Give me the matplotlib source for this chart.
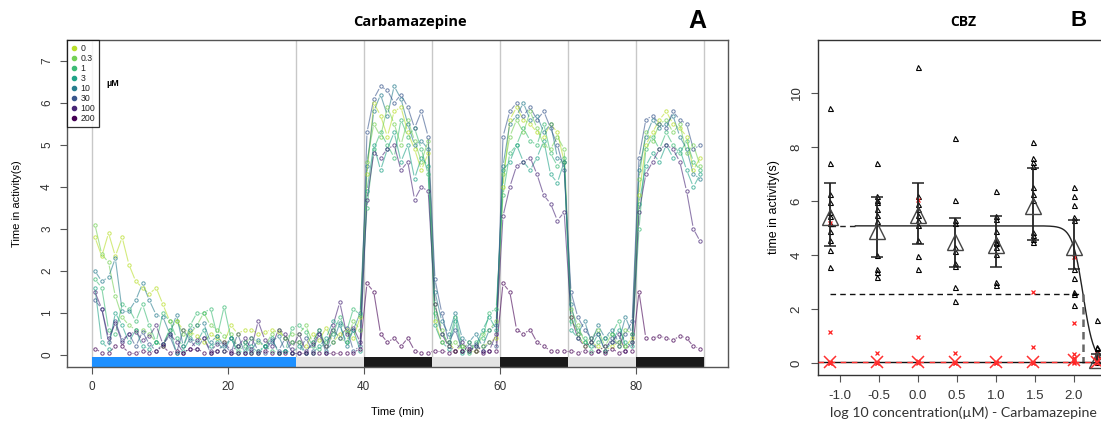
import numpy as np
import matplotlib
matplotlib.use("Agg")
import matplotlib.pyplot as plt
from matplotlib.collections import LineCollection
from matplotlib.lines import Line2D

# ---- panel A: activity time course per concentration ----
concentrations = ["0", "0.3", "1", "3", "10", "30", "100", "200"]
series_colors = ["#B8DE29", "#73D055", "#3CBB75", "#20A387",
                 "#287D8E", "#39568C", "#482677", "#440154"]
minutes = np.arange(0.5, 90, 1.0)

act_0 = [2.8, 2.35, 2.9, 2.35, 2.8, 2.15, 1.75, 1.6, 1.45, 1.6, 1.2, 0.8, 0.8, 0.6, 0.55,
         0.45, 0.3, 0.5, 0.4, 0.3, 0.7, 0.5, 0.6, 0.6, 0.5, 0.55, 0.6, 0.55, 0.4, 0.3,
         0.3, 0.2, 0.5, 0.35, 0.65, 0.3, 0.5, 0.6, 0.4, 0.9,
         4.3, 6.0, 5.7, 5.2, 5.8, 5.9, 5.3, 4.9, 4.4, 4.8,
         0.8, 0.3, 0.3, 0.1, 0.2, 0.1, 0.1, 0.2, 0.3, 0.4,
         4.0, 5.6, 5.9, 5.6, 5.5, 5.3, 5.2, 5.5, 5.3, 4.6,
         0.9, 0.5, 0.2, 0.3, 0.2, 0.1, 0.2, 0.3, 0.2, 0.4,
         3.8, 5.0, 5.3, 5.6, 5.8, 5.5, 5.4, 5.2, 4.4, 4.7]
act_03 = [3.1, 2.4, 2.2, 1.4, 0.9, 0.7, 0.6, 0.6, 0.5, 0.3, 0.2, 0.6, 0.8, 0.5, 0.5,
          0.7, 1.0, 0.7, 0.6, 0.45, 0.5, 0.2, 0.3, 0.4, 0.3, 0.2, 0.5, 0.6, 0.4, 0.5,
          0.5, 0.7, 0.3, 0.6, 0.2, 0.6, 0.4, 0.3, 0.8, 0.6,
          4.6, 5.5, 5.2, 5.9, 5.5, 5.0, 5.6, 5.1, 4.6, 5.1,
          1.2, 0.6, 0.2, 0.3, 0.1, 0.3, 0.1, 0.5, 0.6, 0.8,
          4.3, 5.2, 5.6, 5.3, 5.8, 5.4, 5.0, 4.9, 5.2, 4.9,
          1.1, 0.7, 0.3, 0.4, 0.6, 0.2, 0.5, 0.2, 0.6, 0.5,
          4.2, 5.3, 5.1, 5.5, 5.6, 5.3, 5.5, 4.8, 5.0, 4.5]
act_1 = [1.8, 1.6, 0.6, 0.5, 1.2, 1.1, 0.8, 1.2, 0.7, 0.3, 1.0, 0.8, 0.4, 0.2, 0.7,
         1.0, 1.0, 1.1, 0.45, 1.15, 0.4, 0.1, 0.2, 0.05, 0.1, 0.2, 0.1, 0.05, 0.1, 0.65,
         0.7, 0.55, 0.2, 0.15, 0.3, 0.5, 0.9, 0.55, 1.1, 0.95,
         3.5, 4.9, 5.3, 5.0, 4.7, 5.6, 5.2, 5.4, 4.9, 4.3,
         1.0, 0.5, 0.3, 0.9, 0.2, 0.05, 0.3, 0.4, 1.0, 1.1,
         3.8, 4.8, 5.0, 5.4, 5.1, 5.0, 5.5, 4.8, 4.5, 4.7,
         0.8, 0.6, 0.4, 0.1, 0.3, 0.4, 0.5, 0.8, 0.2, 0.3,
         3.0, 4.9, 5.2, 4.9, 5.3, 5.0, 4.8, 5.1, 4.6, 4.4]
act_3 = [1.6, 0.3, 0.15, 1.0, 0.7, 0.3, 0.6, 0.2, 0.15, 0.3, 0.25, 0.6, 0.05, 0.1, 0.4,
         0.3, 0.6, 0.2, 0.3, 0.1, 0.4, 0.05, 0.1, 0.2, 0.05, 0.2, 0.4, 0.05, 0.1, 0.05,
         0.2, 0.05, 0.05, 0.2, 0.4, 0.8, 0.7, 0.3, 0.6, 0.1,
         3.9, 5.0, 4.4, 4.9, 5.3, 4.6, 5.0, 4.2, 4.7, 4.5,
         0.7, 0.3, 0.15, 0.8, 0.05, 0.1, 0.2, 0.6, 0.9, 0.6,
         4.4, 4.6, 5.0, 4.6, 4.4, 4.7, 5.1, 4.3, 4.1, 4.6,
         0.6, 0.4, 0.3, 0.2, 0.5, 0.1, 0.3, 0.6, 0.3, 0.2,
         3.6, 4.5, 4.8, 4.6, 5.0, 4.7, 4.9, 4.4, 4.0, 4.3]
act_10 = [2.0, 1.75, 1.85, 2.3, 1.05, 1.05, 1.3, 1.7, 1.3, 0.95, 0.9, 0.5, 0.95, 0.2, 0.6,
          0.7, 0.75, 0.3, 0.45, 0.2, 0.4, 0.2, 0.3, 0.1, 0.35, 0.2, 0.3, 0.45, 0.1, 0.3,
          0.3, 0.05, 0.3, 0.6, 0.1, 0.3, 0.75, 0.2, 0.6, 1.0,
          4.5, 5.8, 6.2, 5.7, 6.4, 6.1, 5.5, 5.0, 5.1, 4.9,
          1.5, 0.8, 0.5, 1.0, 0.4, 0.3, 0.5, 0.2, 0.6, 0.7,
          4.5, 5.5, 5.7, 6.0, 5.6, 5.7, 5.3, 5.5, 4.7, 4.6,
          1.2, 0.5, 0.8, 0.3, 0.7, 0.4, 0.6, 0.3, 0.9, 0.5,
          4.4, 5.2, 5.6, 5.4, 5.5, 5.7, 5.2, 4.9, 4.3, 4.2]
act_30 = [1.3, 1.1, 0.3, 0.8, 0.35, 0.5, 0.2, 0.55, 0.25, 0.1, 0.25, 0.45, 0.05, 0.6, 0.35,
          0.15, 0.4, 0.05, 0.1, 0.25, 0.05, 0.5, 0.05, 0.4, 0.1, 0.05, 0.35, 0.1, 0.4, 0.05,
          0.05, 0.4, 0.1, 0.5, 0.05, 0.6, 0.4, 0.65, 0.1, 0.2,
          5.3, 6.1, 6.4, 6.3, 6.0, 6.2, 5.9, 5.4, 5.8, 5.2,
          1.8, 1.0, 0.3, 0.6, 0.1, 0.2, 0.25, 0.1, 0.3, 0.2,
          5.2, 5.8, 6.0, 5.7, 5.9, 5.6, 5.8, 5.4, 5.0, 4.4,
          1.5, 0.9, 0.6, 0.4, 0.5, 0.1, 0.4, 0.2, 0.5, 0.8,
          4.7, 5.6, 5.7, 5.5, 5.4, 5.8, 5.6, 5.5, 4.9, 5.0]
act_100 = [1.5, 1.1, 0.4, 0.75, 0.3, 0.5, 0.55, 0.35, 0.45, 0.7, 0.25, 0.5, 0.3, 0.05, 0.15,
           0.35, 0.4, 0.1, 0.25, 0.3, 0.1, 0.2, 0.4, 0.15, 0.8, 0.35, 0.2, 0.6, 0.5, 0.15,
           0.5, 0.1, 0.25, 0.5, 0.2, 0.7, 1.25, 0.5, 0.65, 0.3,
           3.7, 4.8, 4.7, 4.9, 5.0, 4.4, 4.6, 3.7, 4.0, 3.9,
           1.2, 0.5, 0.2, 0.1, 0.3, 0.1, 0.2, 0.1, 0.1, 0.5,
           3.3, 4.0, 4.5, 4.6, 4.7, 4.3, 3.8, 3.6, 3.2, 3.4,
           0.9, 0.4, 0.2, 0.3, 0.1, 0.2, 0.3, 0.5, 0.1, 0.3,
           3.4, 4.3, 4.6, 4.9, 5.0, 4.9, 4.6, 3.9, 3.0, 2.7]
act_200 = [0.15, 0.05, 0.05, 0.2, 0.2, 0.05, 0.05, 0.1, 0.05, 0.1, 0.2, 0.05, 0.1, 0.05, 0.15,
           0.15, 0.05, 0.05, 0.1, 0.1, 0.05, 0.05, 0.05, 0.05, 0.05, 0.1, 0.05, 0.05, 0.05, 0.05,
           0.05, 0.05, 0.05, 0.05, 0.05, 0.05, 0.05, 0.05, 0.05, 0.15,
           1.7, 1.5, 0.5, 0.3, 0.4, 0.2, 0.4, 0.1, 0.05, 0.05,
           0.1, 0.1, 0.05, 0.1, 0.1, 0.15, 0.1, 0.05, 0.1, 0.1,
           1.7, 1.5, 0.6, 0.5, 0.6, 0.3, 0.2, 0.1, 0.1, 0.1,
           0.1, 0.05, 0.1, 0.05, 0.1, 0.05, 0.15, 0.05, 0.1, 0.1,
           1.5, 0.4, 0.4, 0.45, 0.4, 0.35, 0.45, 0.4, 0.2, 0.15]
activity = [act_0, act_03, act_1, act_3, act_10, act_30, act_100, act_200]

# light / dark protocol strip along the bottom
phase_start = [0, 30, 40, 50, 60, 70, 80]
phase_length = [30, 10, 10, 10, 10, 10, 10]
phase_color = ["#1E90FF", "#E3E3E3", "#1A1A1A", "#E3E3E3", "#1A1A1A", "#E3E3E3", "#1A1A1A"]
phase_lines = [0, 30, 40, 50, 60, 70, 80, 90]

# ---- panel B: concentration response ----
log_conc = [-1.13, -0.52, 0.0, 0.48, 1.0, 1.48, 2.0, 2.3]
dark_values = [
    [9.45, 7.42, 6.25, 5.95, 5.58, 5.45, 5.2, 4.9, 4.55, 4.2, 3.55],
    [7.42, 6.18, 6.05, 5.95, 5.72, 5.47, 5.25, 4.0, 3.47, 3.39, 3.18],
    [10.97, 6.2, 5.9, 5.7, 5.5, 5.3, 5.1, 4.57, 3.95, 3.47],
    [8.32, 6.05, 5.3, 5.2, 4.3, 4.15, 3.7, 3.6, 2.83, 2.3],
    [6.38, 5.45, 5.35, 4.9, 4.6, 4.5, 4.45, 4.3, 4.05, 3.0, 2.88],
    [8.2, 7.6, 7.45, 7.3, 6.5, 6.25, 6.05, 4.85, 4.75, 4.6, 4.5],
    [6.5, 6.2, 5.85, 5.42, 5.3, 3.47, 3.15, 2.62, 2.55, 2.15],
    [1.6, 0.6, 0.55, 0.4, 0.25, 0.1, 0.05],
]
dark_mean = [5.42, 4.9, 5.5, 4.47, 4.37, 5.8, 4.29, 0.12]
dark_upper = [6.65, 6.16, 6.68, 5.38, 5.45, 7.21, 5.28, 0.35]
dark_lower = [4.33, 3.94, 4.4, 3.55, 3.55, 4.55, 3.47, 0.0]
light_values = [
    [5.2, 1.15, 0.05, 0.02, 0.0],
    [0.38, 0.02, 0.0],
    [6.05, 0.95, 0.08, 0.03, 0.0],
    [0.38, 0.02, 0.0],
    [0.05, 0.0, 0.0],
    [2.64, 0.6, 0.02, 0.0],
    [3.94, 1.47, 0.32, 0.18, 0.12, 0.05, 0.0],
    [0.35, 0.25, 0.1, 0.05, 0.0],
]
light_mean = [0.03, 0.03, 0.05, 0.03, 0.03, 0.03, 0.1, 0.05]

# fitted log-logistic model (dark phase) and flat fit (light phase)
fit_top = 5.08
fit_bottom = 0.0
fit_log_ec50 = 2.12
fit_hill = 6.2
light_fit_level = 0.03


def gapped_segments(ax, x, y, gap_px=3.2):
    """Line pieces between points, trimmed around each point like R's type='b'."""
    pts = ax.transData.transform(np.column_stack([x, y]))
    inv = ax.transData.inverted()
    segs = []
    for p0, p1 in zip(pts[:-1], pts[1:]):
        d = p1 - p0
        length = np.hypot(*d)
        if length <= 2 * gap_px:
            continue
        u = d / length
        segs.append(inv.transform([p0 + u * gap_px, p1 - u * gap_px]))
    return segs


def r_style(ax, color="#555555"):
    for sp in ax.spines.values():
        sp.set_color(color)
        sp.set_linewidth(1.0)
    ax.tick_params(direction="out", length=5, width=0.8, color="#555555",
                   labelcolor="#333333", labelsize=8.5, pad=5)
    for lab in ax.get_yticklabels():
        lab.set_rotation(90)
        lab.set_va("center")


fig = plt.figure(figsize=(11.01, 4.23), dpi=100)
plt.rcParams["font.family"] = ["Liberation Sans", "DejaVu Sans"]

# ---------------- panel A ----------------
axA = fig.add_axes([0.0609, 0.1324, 0.6004, 0.7730])
axA.set_xlim(-3.6, 93.6)
axA.set_ylim(-0.29, 7.5)

for xv in phase_lines:
    axA.axvline(xv, color="#C8C8C8", lw=1.0, zorder=0)
axA.broken_barh(list(zip(phase_start, phase_length)), (-0.29, 0.24),
                facecolors=phase_color, edgecolor="none", zorder=1)

for vals, col in zip(activity, series_colors):
    segs = gapped_segments(axA, minutes, vals)
    axA.add_collection(LineCollection(segs, colors=col, linewidths=0.8, alpha=0.6, zorder=2))
    axA.plot(minutes, vals, "o", ms=2.4, mfc="none", mec=col, mew=0.7, alpha=0.75, zorder=3)

axA.set_xticks([0, 20, 40, 60, 80])
axA.set_yticks(range(0, 8))
r_style(axA)
axA.set_xlabel("Time (min)", fontsize=8, labelpad=10)
axA.set_ylabel("Time in activity(s)", fontsize=8, labelpad=14)

handles = [Line2D([], [], ls="none", marker="o", ms=3, color=c) for c in series_colors]
leg = axA.legend(handles, concentrations, loc="upper left", bbox_to_anchor=(0, 1),
                 borderaxespad=0, fontsize=6.3, handlelength=0.6, handletextpad=0.5,
                 labelspacing=0.12, borderpad=0.45, frameon=True, fancybox=False)
leg.get_frame().set_edgecolor("black")
leg.get_frame().set_linewidth(0.9)
for txt in leg.get_texts():
    txt.set_color("#222222")
axA.text(0.06, 0.868, "µM", transform=axA.transAxes, fontsize=6.5,
         fontweight="bold", va="center")

fig.text(410 / 1101, 1 - 22 / 423, "Carbamazepine", fontsize=10.5, fontweight="bold",
         family="Open Sans", ha="center", va="center")
fig.text(697 / 1101, 1 - 21 / 423, "A", fontsize=18, fontweight="bold",
         ha="center", va="center")

# ---------------- panel B ----------------
axB = fig.add_axes([818 / 1101, 0.1135, 0.2634, 0.7920])
axB.set_xlim(-1.28, 2.44)
axB.set_ylim(-0.44, 11.96)

# fitted curves
xs = np.linspace(-0.8, 2.44, 300)
curve = fit_bottom + (fit_top - fit_bottom) / (1 + 10 ** (fit_hill * (xs - fit_log_ec50)))
axB.plot(xs, curve, color="#222222", lw=1.0, zorder=3)
axB.plot([log_conc[0], -0.8], [fit_top, fit_top], color="#222222", lw=1.0,
         ls=(0, (4, 3)), zorder=3)
half = (fit_top + fit_bottom) / 2
axB.plot([log_conc[0], fit_log_ec50], [half, half], color="#111111", lw=1.0,
         ls=(0, (4, 3)), zorder=3)
axB.plot([fit_log_ec50, fit_log_ec50], [half, 0], color="#666666", lw=1.8,
         ls=(0, (3, 2)), zorder=3)
axB.axhline(light_fit_level, color="#111111", lw=1.0, zorder=3)
axB.axhline(light_fit_level, color="#FF3030", lw=1.0, ls=(0, (4, 4)), zorder=3)

for xv, vals, lv in zip(log_conc, dark_values, light_values):
    axB.plot([xv] * len(vals), vals, "^", ms=3.6, mfc="none", mec="black", mew=0.8, zorder=4)
    axB.plot([xv] * len(lv), lv, "x", ms=3.4, color="#FF2020", mew=0.9, zorder=4)

err = [np.array(dark_mean) - np.array(dark_lower), np.array(dark_upper) - np.array(dark_mean)]
axB.errorbar(log_conc, dark_mean, yerr=err, fmt="none", ecolor="#222222", elinewidth=1.3,
             capsize=4, capthick=1.1, zorder=5)
axB.plot(log_conc, dark_mean, "^", ms=11, mfc="none", mec="#444444", mew=1.0, zorder=6)
axB.plot(log_conc, light_mean, "x", ms=9, color="#FF3030", mew=1.1, zorder=6)

axB.set_xticks([-1.0, -0.5, 0.0, 0.5, 1.0, 1.5, 2.0])
axB.set_xticklabels(["-1.0", "-0.5", "0.0", "0.5", "1.0", "1.5", "2.0"])
axB.set_yticks([0, 2, 4, 6, 8, 10])
r_style(axB, color="#333333")
axB.tick_params(labelsize=9.5, pad=6)
axB.set_ylabel("time in activity(s)", fontsize=9, labelpad=8)
axB.set_xlabel("log 10 concentration(µM) - Carbamazepine", fontsize=10.2,
               family="Lato", color="#333333", labelpad=3)

fig.text(963 / 1101, 1 - 22 / 423, "CBZ", fontsize=10, fontweight="bold",
         family="Open Sans", ha="center", va="center")
fig.text(1079 / 1101, 1 - 20 / 423, "B", fontsize=16, fontweight="bold",
         ha="center", va="center")

fig.savefig("out.png", dpi=100)
